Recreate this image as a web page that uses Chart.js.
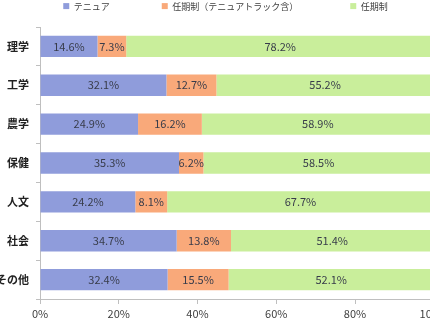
<!DOCTYPE html>
<html>
<head>
<meta charset="utf-8">
<script src="https://cdn.jsdelivr.net/npm/chart.js@4"></script>
<style>
  html, body { margin: 0; padding: 0; background: #fff; overflow: hidden; }
  #wrap { width: 451px; height: 329px; }
</style>
</head>
<body>
<div id="wrap"><canvas id="staffChart"></canvas></div>
<script>
const categories = ['理学', '工学', '農学', '保健', '人文', '社会', 'その他'];
const seriesNames = ['テニュア', '任期制（テニュアトラック含）', '任期制'];
const tenure = [14.6, 32.1, 24.9, 35.3, 24.2, 34.7, 32.4];
const tenureTrack = [7.3, 12.7, 16.2, 6.2, 8.1, 13.8, 15.5];
const fixedTerm = [78.2, 55.2, 58.9, 58.5, 67.7, 51.4, 52.1];
const xTicks = [0, 20, 40, 60, 80, 100];

const font = '"Noto Sans CJK JP", "Noto Sans", sans-serif';
const legendGap = 52;
const legendFontSize = 9;

// labels in the middle of each bar segment
const barLabels = {
    id: 'barLabels',
    afterDatasetsDraw(chart) {
        const ctx = chart.ctx;
        ctx.save();
        ctx.font = '11px ' + font;
        ctx.fillStyle = '#383c4a';
        ctx.textAlign = 'center';
        ctx.textBaseline = 'middle';
        chart.data.datasets.forEach((ds, i) => {
            chart.getDatasetMeta(i).data.forEach((bar, j) => {
                const cx = (bar.x + bar.base) / 2;
                ctx.fillText(ds.data[j].toFixed(1) + '%', cx, bar.y);
            });
        });
        ctx.restore();
    }
};

// wide gaps between legend items, but keep the legend short
const legendHeight = {
    id: 'legendHeight',
    beforeInit(chart) {
        const fit = chart.legend.fit;
        chart.legend.fit = function () {
            fit.bind(chart.legend)();
            this.height = 22;
        };
    },
    afterLayout(chart) {
        chart.legend.top = 7 - legendFontSize * 0.6 - legendGap;
    }
};

const ctx = document.getElementById('staffChart').getContext('2d');
const staffChart = new Chart(ctx, {
    type: 'bar',
    data: {
        labels: categories,
        datasets: [
            { label: seriesNames[0], data: tenure, backgroundColor: '#8f9cdb' },
            { label: seriesNames[1], data: tenureTrack, backgroundColor: '#f9a97a' },
            { label: seriesNames[2], data: fixedTerm, backgroundColor: '#c9ee9b' }
        ]
    },
    options: {
        indexAxis: 'y',
        responsive: true,
        maintainAspectRatio: false,
        animation: false,
        layout: { padding: { top: 5, left: 0, right: 0, bottom: 0 } },
        datasets: { bar: { barPercentage: 0.55, categoryPercentage: 1 } },
        scales: {
            x: {
                stacked: true,
                min: 0,
                max: 100,
                afterBuildTicks: scale => { scale.ticks = xTicks.map(v => ({ value: v })); },
                afterFit: scale => { scale.height = 30; },
                border: { color: '#bfbfbf' },
                grid: { drawOnChartArea: false, tickLength: 5, color: '#bfbfbf' },
                ticks: {
                    color: '#404040',
                    font: { size: 11, family: font },
                    padding: 3,
                    callback: v => v + '%'
                }
            },
            y: {
                stacked: true,
                afterFit: scale => { scale.width = 40; },
                border: { color: '#bfbfbf' },
                grid: { drawOnChartArea: false, tickLength: 4, color: '#bfbfbf', offset: true },
                ticks: {
                    color: '#222',
                    font: { size: 11, family: font, weight: 'bold' },
                    padding: 7
                }
            }
        },
        plugins: {
            legend: {
                position: 'top',
                labels: {
                    boxWidth: 6,
                    boxHeight: 6,
                    padding: legendGap,
                    color: '#404040',
                    font: { size: legendFontSize, family: font }
                }
            },
            tooltip: { enabled: false }
        }
    },
    plugins: [barLabels, legendHeight]
});
</script>
</body>
</html>
